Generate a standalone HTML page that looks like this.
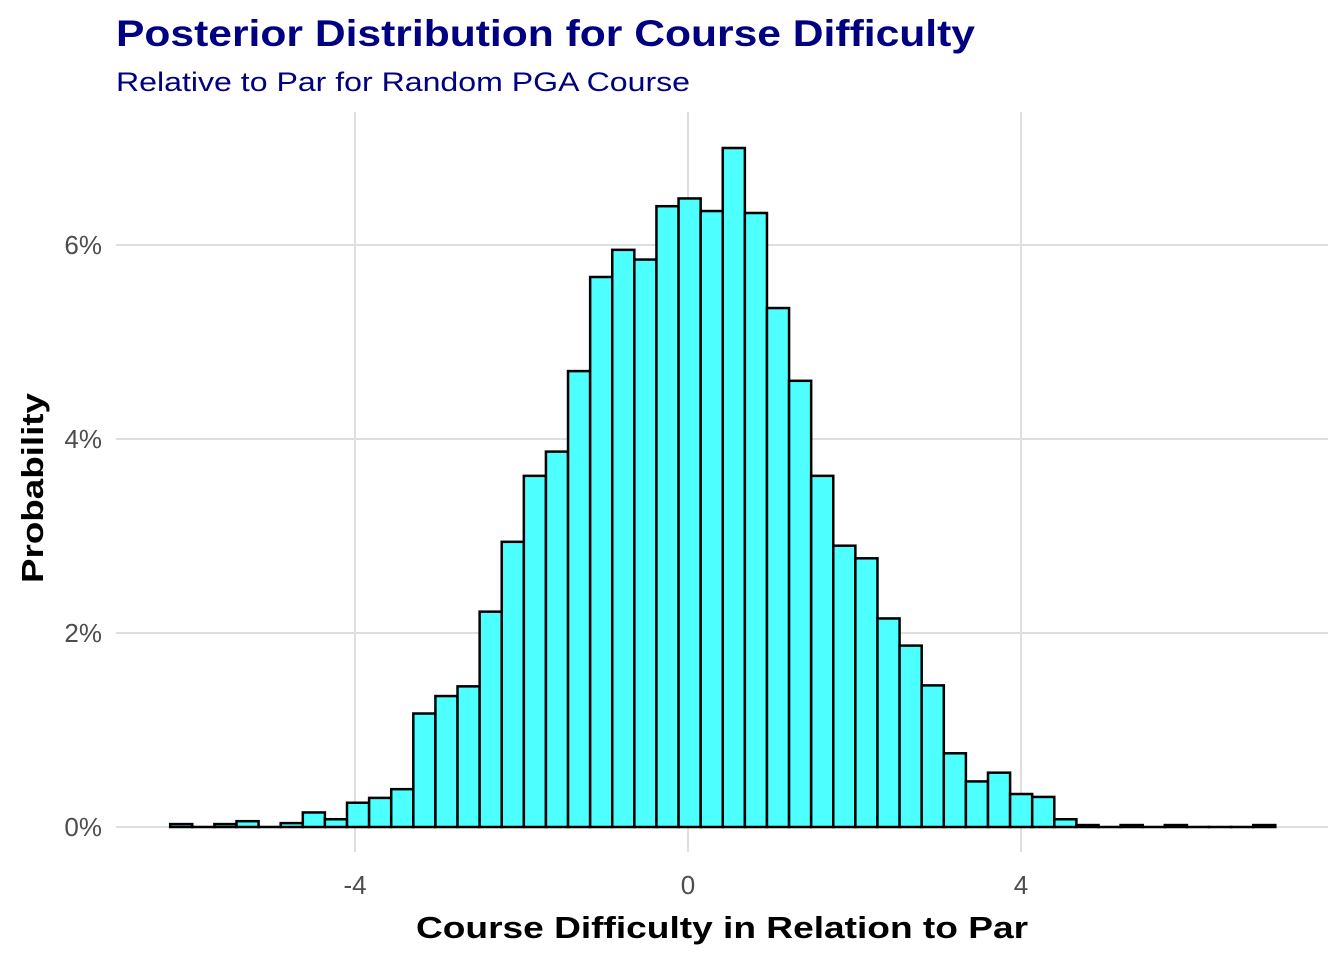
<!DOCTYPE html>
<html><head><meta charset="utf-8"><style>
html,body{margin:0;padding:0;background:#fff;}
svg{display:block;font-family:"Liberation Sans",Arial,sans-serif;}
</style></head><body>
<svg id="chart" width="1344" height="960" viewBox="0 0 1344 960">
<text x="116" y="46" font-size="37" font-weight="bold" fill="#000080" textLength="859" lengthAdjust="spacingAndGlyphs">Posterior Distribution for Course Difficulty</text>
<text x="116" y="91" font-size="27" fill="#000080" textLength="574" lengthAdjust="spacingAndGlyphs">Relative to Par for Random PGA Course</text>
<g id="grid"></g>
<g id="bars"></g>
<g id="axes"></g>
<text x="722" y="938" font-size="31" font-weight="bold" text-anchor="middle" fill="#000" textLength="612" lengthAdjust="spacingAndGlyphs">Course Difficulty in Relation to Par</text>
<text transform="translate(43,488) rotate(-90)" font-size="31" font-weight="bold" text-anchor="middle" fill="#000" textLength="190" lengthAdjust="spacingAndGlyphs">Probability</text>
</svg>
<script>
const binStart = -6.22;
const binWidth = 0.2655;
const probs = [0.03,0,0.03,0.06,0,0.04,0.15,0.08,0.25,0.3,0.39,1.17,1.35,1.45,2.22,2.94,3.62,3.87,4.7,5.67,5.95,5.85,6.4,6.48,6.35,7.0,6.33,5.35,4.6,3.62,2.9,2.77,2.15,1.87,1.46,0.76,0.47,0.56,0.34,0.31,0.08,0.02,0,0.02,0,0.02,0,0,0,0.02];
const xTicks = [-4,0,4];
const xTickLabels = ["-4","0","4"];
const yTicks = [0,2,4,6];
const yTickLabels = ["0%","2%","4%","6%"];

const NS="http://www.w3.org/2000/svg";
const xs = v => 688 + v*83.25;
const ys = v => 827 - v*97;
function mk(tag, attrs, parent){const e=document.createElementNS(NS,tag);for(const k in attrs)e.setAttribute(k,attrs[k]);parent.appendChild(e);return e;}
const grid=document.getElementById('grid'), bars=document.getElementById('bars'), axes=document.getElementById('axes');
yTicks.forEach((t,i)=>{
  const l=mk('line',{x1:116,x2:1328,y1:ys(t),y2:ys(t),stroke:'#dedede','stroke-width':2},grid);
  
  
  const tx=mk('text',{x:102,y:ys(t)+9,'font-size':26,fill:'#4d4d4d','text-anchor':'end'},axes);
  tx.textContent=yTickLabels[i];
  
  
});
xTicks.forEach((t,i)=>{
  const l=mk('line',{x1:xs(t),x2:xs(t),y1:112,y2:852,stroke:'#dedede','stroke-width':2},grid);
  
  
  const tx=mk('text',{x:xs(t),y:894,'font-size':26,fill:'#4d4d4d','text-anchor':'middle'},axes);
  tx.textContent=xTickLabels[i];
  
  
});
probs.forEach((p,i)=>{
  const x0=xs(binStart+i*binWidth), x1=xs(binStart+(i+1)*binWidth);
  const h=Math.max(ys(0)-ys(p),0.01);
  const r=mk('rect',{x:x0,y:ys(0)-h,width:x1-x0,height:h,fill:'#4dffff',stroke:'#000','stroke-width':2.5},bars);
  
  
});
</script>
</body></html>
